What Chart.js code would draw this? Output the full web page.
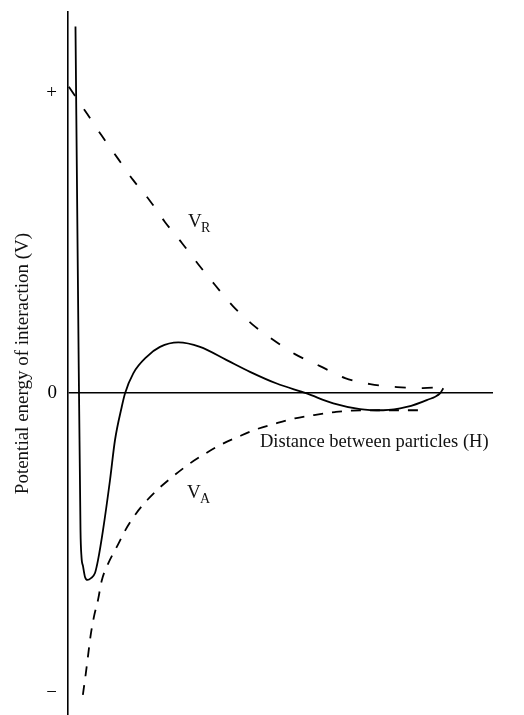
<!DOCTYPE html>
<html>
<head>
<meta charset="utf-8">
<title>Potential energy of interaction</title>
<script src="https://cdn.jsdelivr.net/npm/chart.js@4.4.1/dist/chart.umd.min.js"></script>
<style>
  html, body { margin: 0; padding: 0; background: #fff; }
  #wrap { width: 524px; height: 715px; }
</style>
</head>
<body>
<div id="wrap"><canvas id="myChart" width="524" height="715"></canvas></div>
<script>
//repulsion curve V_R.....................
var repulsionX = [0.02, 0.45, 0.78, 1.18, 1.53, 1.93, 2.28, 2.68, 3.06, 3.46, 3.88, 4.33, 4.80, 5.34, 5.93, 6.52, 7.11, 7.74, 8.35, 8.82];
var repulsionY = [1.02, 0.93, 0.86, 0.78, 0.71, 0.64, 0.57, 0.50, 0.43, 0.36, 0.29, 0.23, 0.18, 0.13, 0.09, 0.05, 0.03, 0.02, 0.017, 0.02];

//attraction curve V_A.....................
var attractionX = [0.35, 0.42, 0.48, 0.53, 0.61, 0.71, 0.79, 0.95, 1.17, 1.35, 1.59, 1.87, 2.17, 2.48, 2.84, 3.21, 3.59, 4.01, 4.40, 4.91, 5.34, 5.79, 6.28, 6.68, 7.46, 8.28];
var attractionY = [-1.005, -0.932, -0.865, -0.809, -0.745, -0.686, -0.626, -0.566, -0.506, -0.456, -0.403, -0.355, -0.313, -0.276, -0.237, -0.203, -0.172, -0.145, -0.122, -0.100, -0.084, -0.073, -0.063, -0.058, -0.057, -0.057];

//net energy curve V.....................
var totalX = [0.176, 0.235, 0.294, 0.318, 0.353, 0.40, 0.459, 0.541, 0.635, 0.706, 0.824, 0.988, 1.106, 1.264, 1.341, 1.536, 1.852, 2.165, 2.595, 3.106, 3.734, 4.282, 4.911, 5.616, 6.242, 6.871, 7.419, 7.969, 8.44, 8.753, 8.831];
var totalY = [1.221, 0.343, -0.456, -0.546, -0.576, -0.612, -0.622, -0.616, -0.599, -0.556, -0.456, -0.290, -0.156, -0.046, -0.001, 0.066, 0.121, 0.154, 0.169, 0.154, 0.110, 0.071, 0.032, -0.001, -0.034, -0.053, -0.057, -0.046, -0.023, -0.001, 0.016];

//y axis ticks.....................
var tickValues = [-1, 0, 1];
var tickLabels = ["\u2212", "0", "+"];

function toPoints(xs, ys) {
  return xs.map(function (x, i) { return { x: x, y: ys[i] }; });
}

var serif = "'Liberation Serif', 'Times New Roman', serif";

// curve names and the distance label, drawn on top
var curveLabels = {
  id: 'curveLabels',
  afterDraw: function (chart) {
    var ctx = chart.ctx;
    ctx.save();
    ctx.fillStyle = '#111';
    ctx.textAlign = 'left';
    ctx.textBaseline = 'alphabetic';
    ctx.font = '19px ' + serif;
    ctx.fillText('V', 188, 227);
    ctx.fillText('V', 187, 498);
    ctx.font = '14px ' + serif;
    ctx.fillText('R', 201, 232);
    ctx.fillText('A', 200, 503);
    ctx.font = '18.5px ' + serif;
    ctx.fillText('Distance between particles (H)', 260, 447);
    ctx.restore();
  }
};

new Chart("myChart", {
  type: 'line',
  data: {
    datasets: [{
      label: 'VR',
      data: toPoints(repulsionX, repulsionY),
      borderColor: '#000',
      borderWidth: 1.8,
      borderDash: [11, 16],
      pointRadius: 0,
      cubicInterpolationMode: 'monotone',
      fill: false
    }, {
      label: 'VA',
      data: toPoints(attractionX, attractionY),
      borderColor: '#000',
      borderWidth: 1.8,
      borderDash: [10, 9],
      pointRadius: 0,
      cubicInterpolationMode: 'monotone',
      fill: false
    }, {
      label: 'V',
      data: toPoints(totalX, totalY),
      borderColor: '#000',
      borderWidth: 1.8,
      pointRadius: 0,
      cubicInterpolationMode: 'monotone',
      fill: false
    }]
  },
  options: {
    responsive: false,
    animation: false,
    devicePixelRatio: 1,
    layout: { padding: { top: 12, right: 31, bottom: 0, left: 0 } },
    plugins: {
      legend: { display: false },
      tooltip: { enabled: false }
    },
    scales: {
      x: { type: 'linear', min: 0, max: 10, display: false },
      y: {
        type: 'linear',
        min: -1.0716,
        max: 1.269,
        afterFit: function (scale) {
          scale.width = 68;
          // no extra room for the end tick labels
          scale.paddingTop = 0;
          scale.paddingBottom = 0;
        },
        afterBuildTicks: function (scale) {
          scale.ticks = tickValues.map(function (v) { return { value: v }; });
        },
        ticks: {
          padding: 11,
          color: '#000',
          font: { family: serif, size: 19 },
          callback: function (value) {
            var i = tickValues.indexOf(value);
            return i >= 0 ? tickLabels[i] : '';
          }
        },
        grid: {
          drawTicks: false,
          lineWidth: 1.6,
          color: function (ctx) {
            return ctx.tick && ctx.tick.value === 0 ? '#000' : 'rgba(0,0,0,0)';
          }
        },
        border: { display: true, color: '#000', width: 1.6 },
        title: {
          display: true,
          text: 'Potential energy of interaction (V)',
          color: '#111',
          font: { family: serif, size: 19 },
          padding: { top: 12, bottom: 0 }
        }
      }
    }
  },
  plugins: [curveLabels]
});
</script>
</body>
</html>
